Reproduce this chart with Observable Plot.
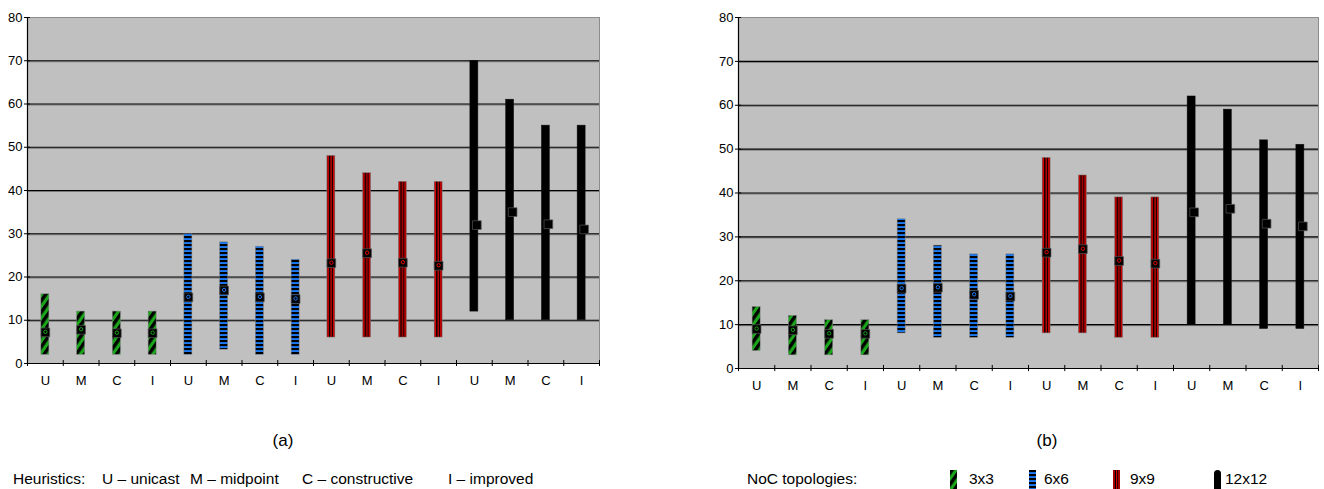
<!DOCTYPE html>
<html>
<head>
<meta charset="utf-8">
<script src="https://cdn.jsdelivr.net/npm/d3@7"></script>
<script src="https://cdn.jsdelivr.net/npm/@observablehq/plot@0.6"></script>
<style>
  html, body { margin: 0; padding: 0; background: #fff; }
  #root { position: relative; width: 1324px; height: 489px; overflow: hidden; font-family: "Liberation Sans", Arial, sans-serif; color: #000; }
  .chart { position: absolute; top: 0; }
  .txt { position: absolute; white-space: nowrap; font-size: 15.5px; line-height: 1; }
  .sw { position: absolute; }
</style>
</head>
<body>
<div id="root">
  <svg width="0" height="0" style="position:absolute">
    <defs>
      <pattern id="pat-green" patternUnits="userSpaceOnUse" width="6.6" height="6.6" patternTransform="rotate(35)">
        <rect width="6.6" height="6.6" fill="#1aa51a"></rect>
        <rect width="3.4" height="6.6" fill="#000"></rect>
      </pattern>
      <pattern id="pat-blue" patternUnits="userSpaceOnUse" width="8" height="4">
        <rect width="8" height="4" fill="#1c7af2"></rect>
        <rect width="8" height="2.1" fill="#000"></rect>
      </pattern>
      <pattern id="pat-red" patternUnits="objectBoundingBox" patternContentUnits="objectBoundingBox" width="1" height="1">
        <rect width="1" height="1" fill="#ee0000"></rect>
        <rect x="0" width="0.1" height="1" fill="#8a0000"></rect>
        <rect x="0.9" width="0.1" height="1" fill="#8a0000"></rect>
        <rect x="0.24" width="0.2" height="1" fill="#000"></rect>
        <rect x="0.6" width="0.16" height="1" fill="#000"></rect>
      </pattern>
    </defs>
  </svg>
  <div id="chartA" class="chart" style="left:0px"></div>
  <div id="chartB" class="chart" style="left:660px"></div>

  <div class="txt" style="left:283px; top:432px; font-size:17px; transform:translateX(-50%)">(a)</div>
  <div class="txt" style="left:1047px; top:432px; font-size:17px; transform:translateX(-50%)">(b)</div>

  <div class="txt" style="left:13px; top:471px">Heuristics:</div>
  <div class="txt" style="left:102px; top:471px">U – unicast</div>
  <div class="txt" style="left:190px; top:471px">M – midpoint</div>
  <div class="txt" style="left:302px; top:471px">C – constructive</div>
  <div class="txt" style="left:448px; top:471px">I – improved</div>

  <div class="txt" style="left:747px; top:471px">NoC topologies:</div>
  <div id="legend"></div>
</div>
<script>
// ---- data ----
const heuristics = ["U", "M", "C", "I"];
const topologies = ["3x3", "6x6", "9x9", "12x12"];
const topoFill = ["url(#pat-green)", "url(#pat-blue)", "url(#pat-red)", "#000"];
const topoDot = ["#1aa51a", "#1c7af2", "#ee0000", null];
const yTicks = [0, 10, 20, 30, 40, 50, 60, 70, 80];
const gridTicks = [10, 20, 30, 40, 50, 60, 70];

// (a) – order: 3x3 U M C I, 6x6 U M C I, 9x9 U M C I, 12x12 U M C I
const aMin  = [2, 2, 2, 2,   2, 3.2, 2, 2,    6, 6, 6, 6,    12, 10, 10, 10];
const aMax  = [16, 12, 12, 12, 30, 28, 27, 24, 48, 44, 42, 42, 70, 61, 55, 55];
const aMean = [7.2, 7.8, 7.0, 7.0, 15.3, 16.9, 15.3, 14.9, 23.2, 25.5, 23.3, 22.6, 32.0, 35.0, 32.2, 31.0];

// (b)
const bMin  = [4, 3, 3, 3,   8, 7, 7, 7,    8, 8, 7, 7,    10, 10, 9, 9];
const bMax  = [14, 12, 11, 11, 34, 28, 26, 26, 48, 44, 39, 39, 62, 59, 52, 51];
const bMean = [9.0, 8.7, 7.9, 7.9, 18.2, 18.4, 16.8, 16.4, 26.4, 27.2, 24.5, 23.9, 35.6, 36.4, 33.0, 32.4];

function rows(mins, maxs, means) {
  const out = [];
  topologies.forEach((t, ti) => heuristics.forEach((h, hi) => {
    const i = ti * 4 + hi;
    out.push({i, ti, topo: t, h, lo: mins[i], hi: maxs[i], mean: means[i]});
  }));
  return out;
}

function chart(data, o) {
  const inset = ((o.width - o.marginLeft - o.marginRight) / 16 - 8) / 2;
  const marks = [
    Plot.frame({fill: "#c0c0c0", stroke: "#8c8c8c"}),
    Plot.ruleY(gridTicks, {stroke: "#7a7a7a", dy: 1}),
    Plot.ruleY(gridTicks, {stroke: "#000", strokeWidth: 1.1}),
  ];
  topologies.forEach((t, ti) => {
    const d = data.filter(r => r.ti === ti);
    marks.push(Plot.rectY(d, {
      x1: r => r.i, x2: r => r.i + 1, y1: "lo", y2: "hi",
      insetLeft: inset, insetRight: inset,
      fill: topoFill[ti], stroke: ti === 3 ? "#111" : "#7f7f7f", strokeWidth: 0.5
    }));
  });
  topologies.forEach((t, ti) => {
    const d = data.filter(r => r.ti === ti);
    marks.push(Plot.dot(d, {
      x: r => r.i + 0.5, y: "mean", symbol: "square", r: 4.9,
      fill: "#000", stroke: "#555", strokeWidth: 0.7, dx: ti === 3 ? 2.5 : 0
    }));
    if (topoDot[ti]) {
      marks.push(Plot.dot(d, {
        x: r => r.i + 0.5, y: "mean", r: 1.7, dy: -0.5,
        fill: "none", stroke: topoDot[ti], strokeWidth: 1
      }));
    }
  });
  marks.push(
    Plot.ruleX([0], {stroke: "#000", strokeWidth: 1.2}),
    Plot.ruleY([0], {stroke: "#000", strokeWidth: 1.2}),
    Plot.ruleX(d3.range(17), {x: d => d, y1: -0.7, y2: 0.7, stroke: "#000"}),
    Plot.ruleY(yTicks, {y: d => d, x1: -0.085, x2: 0.085, stroke: "#000"}),
    Plot.axisY(yTicks, {tickSize: 0, tickPadding: 5, label: null, fontSize: 13}),
    Plot.axisX(d3.range(16).map(i => i + 0.5), {
      tickSize: 0, tickPadding: 12, label: null, fontSize: 13,
      tickFormat: d => heuristics[Math.floor(d) % 4]
    })
  );
  return Plot.plot({
    width: o.width, height: 400,
    marginLeft: o.marginLeft, marginRight: o.marginRight,
    marginTop: 17, marginBottom: o.marginBottom,
    x: {domain: [0, 16]},
    y: {domain: [0, 80]},
    style: {fontFamily: "'Liberation Sans', Arial, sans-serif", fontSize: "13px", color: "#000", background: "transparent", overflow: "visible"},
    marks
  });
}

document.getElementById("chartA").appendChild(
  chart(rows(aMin, aMax, aMean), {width: 620, marginLeft: 27, marginRight: 21, marginBottom: 37}));
document.getElementById("chartB").appendChild(
  chart(rows(bMin, bMax, bMean), {width: 664, marginLeft: 78, marginRight: 6, marginBottom: 32}));

// legend
const legendX = [950, 1029, 1113, 1214];
const legendTextX = [969, 1044, 1130, 1225];
const lg = document.getElementById("legend");
topologies.forEach((t, ti) => {
  const s = document.createElementNS("http://www.w3.org/2000/svg", "svg");
  s.setAttribute("width", 8); s.setAttribute("height", 19);
  s.setAttribute("class", "sw");
  s.style.left = legendX[ti] + "px";
  s.style.top = "470px";
  const r = document.createElementNS("http://www.w3.org/2000/svg", "rect");
  r.setAttribute("width", 7); r.setAttribute("height", 19);
  r.setAttribute("fill", topoFill[ti]);
  if (ti === 3) { r.setAttribute("rx", 3.5); r.setAttribute("height", 24); }
  s.appendChild(r);
  lg.appendChild(s);
  const tx = document.createElement("div");
  tx.className = "txt";
  tx.style.left = legendTextX[ti] + "px";
  tx.style.top = "471px";
  tx.textContent = t;
  lg.appendChild(tx);
});
</script>
</body>
</html>
